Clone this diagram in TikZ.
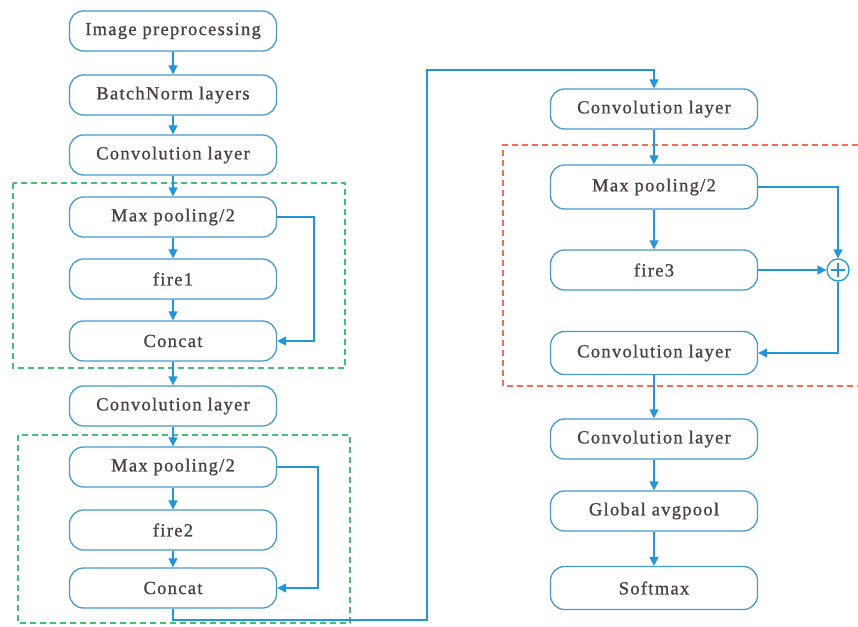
\documentclass[tikz,border=0pt]{standalone}
\usepackage{fontspec}
\setmainfont{Liberation Serif}[LetterSpace=7, FakeBold=0.8]
\usetikzlibrary{arrows.meta}
\definecolor{lblue}{RGB}{35,150,215}
\definecolor{bblue}{RGB}{70,155,205}
\definecolor{dgreen}{RGB}{70,190,120}
\definecolor{dred}{RGB}{240,110,90}
\definecolor{txt}{RGB}{75,62,62}
\tikzset{
  blk/.style={draw=bblue, line width=1.3pt, rounded corners=14pt, minimum width=207pt,
    minimum height=40pt, text=txt, font=\fontsize{18.5}{21}\selectfont, inner sep=0pt, fill=white},
  conn/.style={draw=lblue, line width=1.5pt, -{Triangle[length=9pt,width=9pt]}},
  grp/.style={dash pattern=on 6pt off 4pt, line width=1.5pt}
}
\begin{document}
\begin{tikzpicture}[x=1pt,y=-1pt]
\useasboundingbox (0,0) rectangle (858,626);
% groups
\draw[grp, dgreen] (13,183) rectangle (345,368);
\draw[grp, dgreen] (18,435) rectangle (350,623);
\draw[grp, dred] (858,145) -- (503,145) -- (503,386) -- (858,386);
% left column
\node[blk] (ip) at (173,31) {Image preprocessing};
\node[blk] (bn) at (173,95) {BatchNorm layers};
\node[blk] (c1) at (173,155) {Convolution layer};
\node[blk] (mp1) at (173,217) {Max pooling/2};
\node[blk] (f1) at (173,279) {fire1};
\node[blk] (cc1) at (173,341) {Concat};
\node[blk] (c2) at (173,406) {Convolution layer};
\node[blk] (mp2) at (173,467) {Max pooling/2};
\node[blk] (f2) at (173,530) {fire2};
\node[blk] (cc2) at (173,588) {Concat};
% right column
\node[blk] (c3) at (654,109) {Convolution layer};
\node[blk, minimum height=44pt] (mp3) at (654,187) {Max pooling/2};
\node[blk] (f3) at (654,270) {fire3};
\node[blk, minimum height=43pt] (c4) at (654,353) {Convolution layer};
\node[blk] (c5) at (654,439) {Convolution layer};
\node[blk] (gp) at (654,511) {Global avgpool};
\node[blk, minimum height=43pt] (sm) at (654,588) {Softmax};
\node[circle, draw=lblue, line width=1.3pt, minimum size=22pt, inner sep=0pt] (plus) at (838,270) {};
\draw[lblue, line width=2pt] (831,270) -- (845,270) (838,263) -- (838,277);
% connectors
\draw[conn] (ip) -- (bn);
\draw[conn] (bn) -- (c1);
\draw[conn] (c1) -- (mp1);
\draw[conn] (mp1) -- (f1);
\draw[conn] (f1) -- (cc1);
\draw[conn] (cc1) -- (c2);
\draw[conn] (c2) -- (mp2);
\draw[conn] (mp2) -- (f2);
\draw[conn] (f2) -- (cc2);
\draw[conn] (mp1.east) -- (314,217) |- (cc1.east);
\draw[conn] (mp2.east) -- (318,467) |- (cc2.east);
\draw[conn] (cc2.south) |- (427,620) -- (427,70) -| (c3.north);
\draw[conn] (c3) -- (mp3);
\draw[conn] (mp3) -- (f3);
\draw[conn] (mp3.east) -| (plus.north);
\draw[conn] (f3.east) -- (plus.west);
\draw[conn] (plus.south) |- (c4.east);
\draw[conn] (c4) -- (c5);
\draw[conn] (c5) -- (gp);
\draw[conn] (gp) -- (sm);
\end{tikzpicture}
\end{document}
